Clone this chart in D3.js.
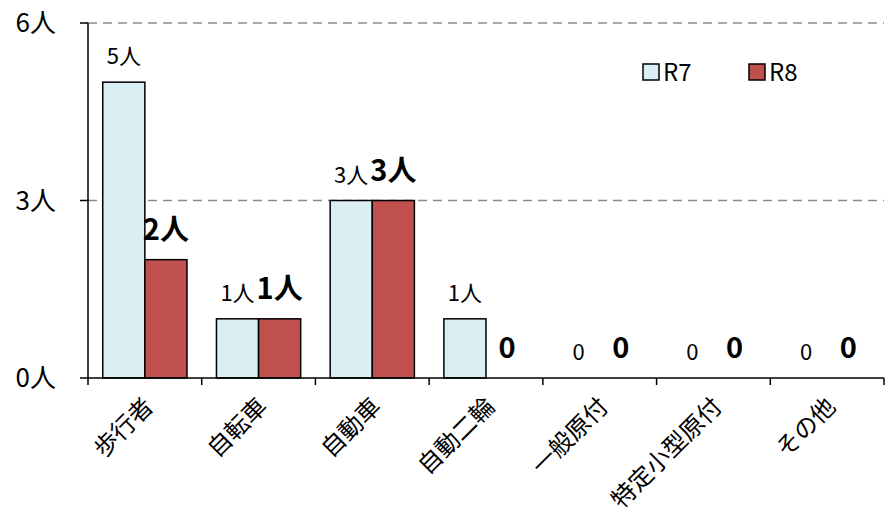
<!DOCTYPE html>
<html>
<head>
<meta charset="utf-8">
<script src="https://cdn.jsdelivr.net/npm/d3@7"></script>
<style>
  body { margin: 0; background: #fff; }
  svg text { font-family: "Noto Sans CJK JP", "Noto Sans", sans-serif; fill: #000; }
</style>
</head>
<body>
<div id="chart"></div>
<script>
// Data
var categories = ["歩行者", "自転車", "自動車", "自動二輪", "一般原付", "特定小型原付", "その他"];
var seriesNames = ["R7", "R8"];
var r7Values = [5, 1, 3, 1, 0, 0, 0];
var r8Values = [2, 1, 3, 0, 0, 0, 0];
var yTicks = [0, 3, 6];

var colors = { R7: "#DAEEF3", R8: "#C0504D" };

var width = 890, height = 515;
var margin = { top: 23, right: 6, bottom: 137, left: 88 };

var svg = d3.select("#chart").append("svg")
    .attr("width", width)
    .attr("height", height);

var xScale = d3.scaleBand()
    .domain(categories)
    .range([margin.left, width - margin.right])
    .padding(0);

var subScale = d3.scaleBand()
    .domain(seriesNames)
    .range([0, xScale.bandwidth()])
    .paddingInner(0)
    .paddingOuter(0.35);

var yScale = d3.scaleLinear()
    .domain([0, 6])
    .range([height - margin.bottom, margin.top]);

// Gridlines (dashed) for non-zero ticks
svg.append("g")
    .selectAll("line")
    .data(yTicks.filter(function(d) { return d > 0; }))
    .enter().append("line")
    .attr("x1", margin.left)
    .attr("x2", width - margin.right)
    .attr("y1", function(d) { return yScale(d); })
    .attr("y2", function(d) { return yScale(d); })
    .style("stroke", "#8c8c8c")
    .style("stroke-width", 1.5)
    .style("stroke-dasharray", "9,6");

// Bars
var rows = categories.map(function(c, i) {
    return { cat: c, R7: r7Values[i], R8: r8Values[i] };
});

var groups = svg.append("g")
    .selectAll("g")
    .data(rows)
    .enter().append("g")
    .attr("transform", function(d) { return "translate(" + xScale(d.cat) + ",0)"; });

groups.selectAll("rect")
    .data(function(d) { return seriesNames.map(function(s) { return { s: s, v: d[s] }; }); })
    .enter().append("rect")
    .filter(function(d) { return d.v > 0; })
    .attr("x", function(d) { return subScale(d.s); })
    .attr("width", subScale.bandwidth())
    .attr("y", function(d) { return yScale(d.v); })
    .attr("height", function(d) { return yScale(0) - yScale(d.v); })
    .style("fill", function(d) { return colors[d.s]; })
    .style("stroke", "#000")
    .style("stroke-width", 1.5);

// Value labels
groups.selectAll("text.val")
    .data(function(d) { return seriesNames.map(function(s) { return { s: s, v: d[s] }; }); })
    .enter().append("text")
    .attr("class", "val")
    .attr("text-anchor", "middle")
    .attr("x", function(d) { return subScale(d.s) + subScale.bandwidth() / 2; })
    .attr("y", function(d) { return yScale(d.v) - (d.s === "R7" ? 18 : 20); })
    .style("font-size", function(d) { return d.s === "R7" ? "22px" : "29px"; })
    .style("font-weight", function(d) { return d.s === "R7" ? "normal" : "bold"; })
    .text(function(d) { return d.v === 0 ? "0" : d.v + "人"; });

// X axis
var xAxisG = svg.append("g")
    .attr("transform", "translate(0," + yScale(0) + ")");

xAxisG.append("line")
    .attr("x1", margin.left)
    .attr("x2", width - margin.right)
    .style("stroke", "#000")
    .style("stroke-width", 1.5);

var boundaries = categories.map(function(c) { return xScale(c); }).concat([xScale.range()[1]]);
xAxisG.selectAll("line.tick")
    .data(boundaries)
    .enter().append("line")
    .attr("class", "tick")
    .attr("x1", function(d) { return d; })
    .attr("x2", function(d) { return d; })
    .attr("y1", 0)
    .attr("y2", 7)
    .style("stroke", "#000")
    .style("stroke-width", 1.5);

xAxisG.selectAll("text")
    .data(categories)
    .enter().append("text")
    .attr("text-anchor", "end")
    .attr("transform", function(d) {
        var cx = xScale(d) + xScale.bandwidth() / 2 + 4;
        return "translate(" + cx + ",24) rotate(-45)";
    })
    .attr("dy", "0.35em")
    .style("font-size", "24px")
    .text(function(d) { return d; });

// Y axis
var yAxisG = svg.append("g");

yAxisG.append("line")
    .attr("x1", margin.left)
    .attr("x2", margin.left)
    .attr("y1", yScale(6))
    .attr("y2", yScale(0))
    .style("stroke", "#000")
    .style("stroke-width", 1.5);

yAxisG.selectAll("line.tick")
    .data(yTicks)
    .enter().append("line")
    .attr("class", "tick")
    .attr("x1", margin.left - 8)
    .attr("x2", margin.left)
    .attr("y1", function(d) { return yScale(d); })
    .attr("y2", function(d) { return yScale(d); })
    .style("stroke", "#000")
    .style("stroke-width", 1.5);

yAxisG.selectAll("text")
    .data(yTicks)
    .enter().append("text")
    .attr("text-anchor", "end")
    .attr("x", margin.left - 32)
    .attr("y", function(d) { return yScale(d); })
    .attr("dy", "0.35em")
    .style("font-size", "26px")
    .text(function(d) { return d + "人"; });

// Legend
var legend = svg.append("g")
    .selectAll("g")
    .data(seriesNames)
    .enter().append("g")
    .attr("transform", function(d, i) { return "translate(" + (643 + i * 106) + ",64)"; });

legend.append("rect")
    .attr("width", 16)
    .attr("height", 16)
    .style("fill", function(d) { return colors[d]; })
    .style("stroke", "#000")
    .style("stroke-width", 1.5);

legend.append("text")
    .attr("x", 20)
    .attr("y", 8)
    .attr("dy", "0.36em")
    .style("font-size", "24px")
    .text(function(d) { return d; });
</script>
</body>
</html>
